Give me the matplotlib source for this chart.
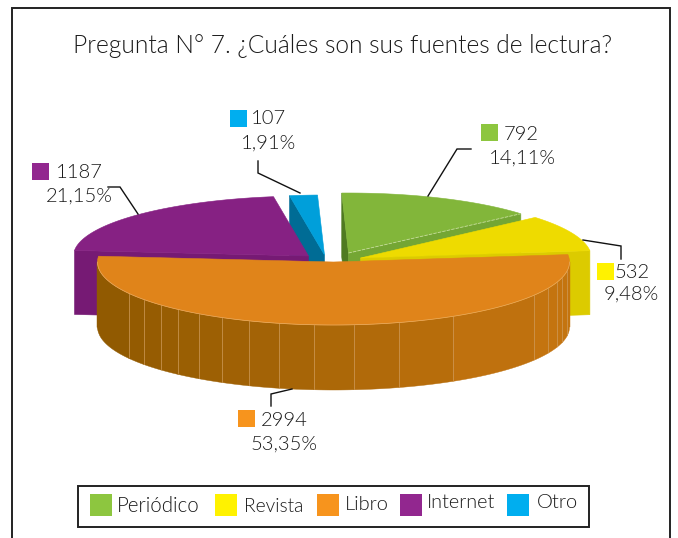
import numpy as np
import matplotlib
matplotlib.use("Agg")
import matplotlib.pyplot as plt
from matplotlib import font_manager as fm
from matplotlib.colors import to_rgb
from matplotlib.patches import Polygon, Rectangle

light_file = None
for f in fm.findSystemFonts():
    if f.endswith(("Lato-Light.ttf", "Lato-Regular.ttf")):
        if light_file is None or f.endswith("Lato-Light.ttf"):
            light_file = f
font_args = {"fontproperties": fm.FontProperties(fname=light_file)} if light_file else {"family": "Lato"}

title = "Pregunta N° 7. ¿Cuáles son sus fuentes de lectura?"
categories = ["Periódico", "Revista", "Libro", "Internet", "Otro"]
values = [792, 532, 2994, 1187, 107]

top_colors = ["#82B63A", "#EEDB00", "#E0841A", "#862183", "#009FDA"]
side_colors = ["#74A634", "#DCCB00", "#A8660A", "#761A74", "#006C95"]
start_face_colors = ["#4F7A21", None, None, None, "#006C95"]
swatch_colors = ["#8DC63F", "#FFF200", "#F7941D", "#92278F", "#00AEEF"]

# layout (pixels)
CX, CY, DEPTH = 333.5, 262, 64
START = -1.7
radius_x = [228, 231, 236, 235, 235]
radius_y = [60, 62, 63, 60, 60]
shift_x = [15, 27, 0, -25, -9]
shift_y = [-9, -4, 0, -6, -7]
swatches = [(481, 124), (597, 263), (238, 410), (32, 163), (230, 110)]
value_pos = [(521, 134), (632, 272), (284.5, 420), (79.5, 172), (268.5, 119)]
pct_pos = [(522.5, 158), (631.5, 294), (284, 444), (79.5, 196), (268.5, 143)]
leaders = [[(428, 196), (457, 149), (471, 149)],
           [(583, 240), (621, 246), (621, 259)],
           [(292, 389), (271, 394), (271, 406)],
           [(138, 214), (120, 187), (108, 187)],
           [(300, 193), (258, 173), (258, 161)]]
legend_sw_x = [90, 215, 317, 400, 507]
legend_txt = [(117, 506), (244, 506), (345, 504), (427, 503), (537, 502)]
legend_size = [14.8, 13.8, 14.5, 14.3, 14.5]
band_x = [97, 129, 144, 161, 178, 199, 222, 249, 279, 314, 354, 399, 453, 534,
          548, 557, 562, 567, 570]
TXT = "#1a1a1a"

fig = plt.figure(figsize=(6.78, 5.38), dpi=100, facecolor="white")
ax = fig.add_axes([0, 0, 1, 1])
ax.set_xlim(0, 678)
ax.set_ylim(538, 0)
ax.axis("off")


def label(x, y, s, size, ha="center", z=70):
    t = ax.text(x, y, s, ha=ha, va="center", color=TXT, zorder=z, **font_args)
    t.set_fontsize(size)
    return t


ax.plot([11.5, 11.5, 670, 670], [545, 7.5, 7.5, 545], color="#222222", lw=1.4,
        solid_joinstyle="miter")
label(342.5, 46, title, 17.75)

fracs = np.array(values, dtype=float) / np.sum(values)
sweeps = fracs * 360
starts = START + np.concatenate([[0], np.cumsum(sweeps)[:-1]])


def pt(theta, cx, cy, rx, ry):
    t = np.radians(theta)
    return cx + rx * np.sin(t), cy - ry * np.cos(t)


def arc(a, b, cx, cy, rx, ry, n=120):
    th = np.linspace(a, b, n)
    x, y = pt(th, cx, cy, rx, ry)
    return np.column_stack([x, y])


def face(p, q, color, z):
    ax.add_patch(Polygon([p, q, (q[0], q[1] + DEPTH), (p[0], p[1] + DEPTH)],
                         closed=True, fc=color, ec=color, lw=0.4, zorder=z))


for z, i in enumerate([4, 3, 0, 1, 2]):
    z = z * 10 + 2
    a, b = starts[i], starts[i] + sweeps[i]
    cx, cy = CX + shift_x[i], CY + shift_y[i]
    rx, ry = radius_x[i], radius_y[i]
    apex = (cx, cy)
    pa, pb = pt(a, cx, cy, rx, ry), pt(b, cx, cy, rx, ry)
    if start_face_colors[i]:
        face(pa, apex, start_face_colors[i], z)
    if i == 3:
        face(pa, apex, side_colors[i], z)
    if i in (0, 1):
        face(pb, apex, side_colors[i], z)
    if i == 2:
        lo, hi = to_rgb("#8F5900"), to_rgb("#C4740F")
        for x0, x1 in zip(band_x[:-1], band_x[1:]):
            s = np.clip(((x0 + x1) / 2 - 97) / 440, 0, 1)
            col = tuple(l + (h - l) * s for l, h in zip(lo, hi))
            xs = np.linspace(x0, x1, 25)
            ys = cy + ry * np.sqrt(np.clip(1 - ((xs - cx) / rx) ** 2, 0, 1))
            poly = list(zip(xs, ys)) + list(zip(xs[::-1], ys[::-1] + DEPTH + 1))
            ax.add_patch(Polygon(poly, closed=True, fc=col, ec=col, lw=0.3, zorder=z))
        for x0 in band_x[1:-1]:
            y0 = cy + ry * np.sqrt(1 - ((x0 - cx) / rx) ** 2)
            ax.plot([x0, x0], [y0, y0 + DEPTH], color="#CF9C5C", lw=0.5, zorder=z + 1)
    verts = np.vstack([[apex], arc(a, b, cx, cy, rx, ry)])
    ax.add_patch(Polygon(verts, closed=True, fc=top_colors[i], ec=top_colors[i],
                         lw=0.4, zorder=z + 2))
    if i == 0:
        ax.plot([apex[0], pb[0]], [apex[1], pb[1]], color="#C6DC9C", lw=0.6,
                ls=(0, (4, 1.5)), zorder=z + 3)
    if i == 2:
        fr = arc(90, 270, cx, cy, rx, ry)
        ax.plot(fr[:, 0], fr[:, 1], color="#EBAE62", lw=0.5, zorder=z + 3)

for i in range(len(values)):
    sx, sy = swatches[i]
    ax.add_patch(Rectangle((sx, sy), 17, 17, fc=swatch_colors[i], ec="none", zorder=70))
    label(*value_pos[i], str(values[i]), 14.5)
    pct = f"{fracs[i] * 100:.2f}%".replace(".", ",")
    label(*pct_pos[i], pct, 14.5)
    lx, ly = zip(*leaders[i])
    ax.plot(lx, ly, color="#111111", lw=1.0, zorder=71, solid_joinstyle="miter")

ax.add_patch(Rectangle((78, 486), 511, 41, fc="white", ec="#222222", lw=1.4, zorder=72))
for i, name in enumerate(categories):
    ax.add_patch(Rectangle((legend_sw_x[i], 494), 22, 22, fc=swatch_colors[i], ec="none", zorder=73))
    label(legend_txt[i][0], legend_txt[i][1], name, legend_size[i], ha="left", z=73)

fig.savefig("out.png", dpi=100, facecolor="white")
